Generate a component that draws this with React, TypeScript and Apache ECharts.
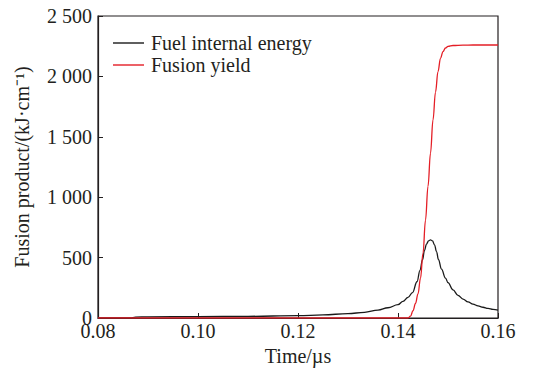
import React, { useEffect, useRef } from "react";
import * as echarts from "echarts";

// Time axis samples (µs) and the two energy curves (kJ·cm⁻¹)
const fuelTime = [
  0.08, 0.0865, 0.0875, 0.09, 0.1, 0.11, 0.12, 0.125, 0.13, 0.1333, 0.136, 0.138,
  0.14, 0.141, 0.142, 0.1429, 0.1438, 0.1444, 0.1449, 0.1453, 0.1457, 0.1461,
  0.1465, 0.1469, 0.1473, 0.1477, 0.1481, 0.1487, 0.1495, 0.15, 0.151, 0.152,
  0.153, 0.154, 0.155, 0.156, 0.157, 0.158, 0.159, 0.16,
];
const fuelEnergy = [
  0, 0, 8, 10, 12, 14, 19, 26, 36, 47, 65, 85, 110, 138, 170, 210, 300, 395, 482,
  560, 612, 638, 647, 638, 605, 550, 482, 405, 330, 293, 232, 188, 157, 133, 115,
  100, 89, 79, 71, 65,
];

const yieldTime = [
  0.08, 0.1, 0.12, 0.14, 0.142, 0.1425, 0.143, 0.1435, 0.144, 0.1445, 0.145,
  0.1455, 0.146, 0.1465, 0.147, 0.1475, 0.148, 0.1485, 0.149, 0.1495, 0.15, 0.151,
  0.153, 0.155, 0.16,
];
const fusionYield = [
  0, 0, 0, 0, 0, 15, 60, 120, 200, 330, 537, 810, 1090, 1364, 1640, 1870, 2040,
  2150, 2205, 2235, 2248, 2256, 2259, 2260, 2260,
];

const xTicks = { min: 0.08, max: 0.16, step: 0.02 };
const yTicks = { min: 0, max: 2500, step: 500 };

const FONT = "'Liberation Serif', 'Times New Roman', serif";
const INK = "#231f20";
const FS = 20;

const pairs = (xs: number[], ys: number[]) => xs.map((x, i) => [x, ys[i]]);

const fmtThousands = (v: number) => {
  const s = String(Math.round(v));
  return s.length > 3 ? s.slice(0, s.length - 3) + " " + s.slice(-3) : s;
};

export default function App() {
  const ref = useRef<HTMLDivElement>(null);

  useEffect(() => {
    if (!ref.current) return;
    const chart = echarts.init(ref.current, undefined, { renderer: "svg" });
    chart.setOption({
      animation: false,
      backgroundColor: "#ffffff",
      textStyle: { fontFamily: FONT, color: INK },
      grid: {
        left: 98,
        right: 46,
        top: 16,
        bottom: 61,
        show: true,
        borderColor: INK,
        borderWidth: 1.2,
        containLabel: false,
      },
      legend: {
        orient: "vertical",
        left: 108,
        top: 28,
        icon: "rect",
        itemWidth: 31,
        itemHeight: 1.4,
        itemGap: 2,
        textStyle: { fontFamily: FONT, fontSize: FS, color: INK, lineHeight: 19, padding: [0, 0, 0, 2] },
        data: ["Fuel internal energy", "Fusion yield"],
      },
      xAxis: {
        type: "value",
        min: xTicks.min,
        max: xTicks.max,
        interval: xTicks.step,
        name: "Time/µs",
        nameLocation: "middle",
        nameGap: 27,
        nameTextStyle: { fontFamily: FONT, fontSize: FS, color: INK },
        axisLine: { lineStyle: { color: INK, width: 1.2 } },
        axisTick: { inside: true, length: 5, lineStyle: { color: INK } },
        axisLabel: {
          fontFamily: FONT,
          fontSize: FS,
          color: INK,
          margin: 3,
          formatter: (v: number) => v.toFixed(2),
        },
        splitLine: { show: false },
      },
      yAxis: {
        type: "value",
        min: yTicks.min,
        max: yTicks.max,
        interval: yTicks.step,
        name: "Fusion product/(kJ·cm⁻¹)",
        nameLocation: "middle",
        nameGap: 66,
        nameTextStyle: { fontFamily: FONT, fontSize: FS, color: INK },
        axisLine: { show: true, lineStyle: { color: INK, width: 1.2 } },
        axisTick: { show: true, inside: true, length: 5, lineStyle: { color: INK } },
        axisLabel: {
          fontFamily: FONT,
          fontSize: FS,
          color: INK,
          margin: 6,
          formatter: fmtThousands,
        },
        splitLine: { show: false },
      },
      series: [
        {
          name: "Fuel internal energy",
          type: "line",
          data: pairs(fuelTime, fuelEnergy),
          smooth: 0.4,
          smoothMonotone: "x",
          symbol: "none",
          lineStyle: { color: "#1a1a1a", width: 1.3 },
          itemStyle: { color: "#1a1a1a" },
          z: 2,
        },
        {
          name: "Fusion yield",
          type: "line",
          data: pairs(yieldTime, fusionYield),
          smooth: 0.4,
          smoothMonotone: "x",
          symbol: "none",
          lineStyle: { color: "#e41e26", width: 1.3 },
          itemStyle: { color: "#e41e26" },
          z: 3,
        },
      ],
    });
    return () => chart.dispose();
  }, []);

  return <div ref={ref} style={{ width: 544, height: 379, marginLeft: -8, marginTop: -8 }} />;
}
